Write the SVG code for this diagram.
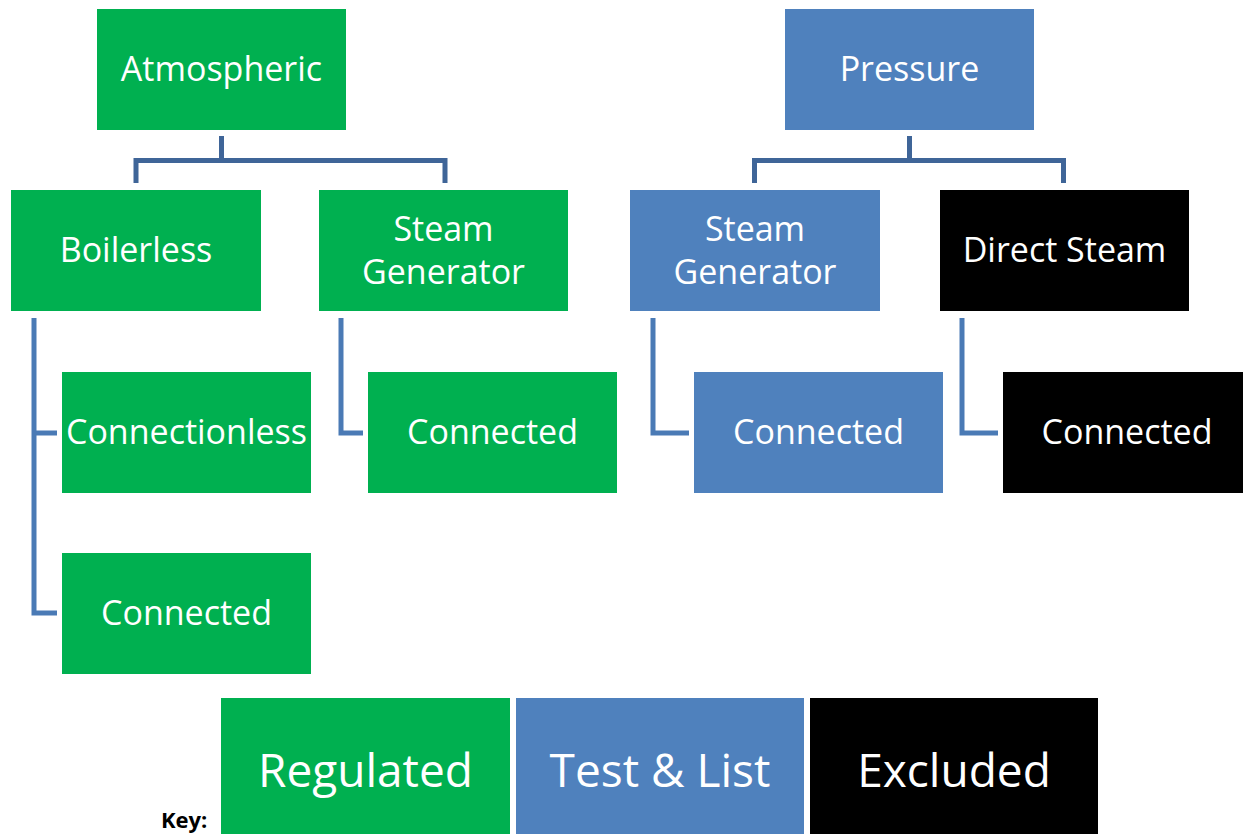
<svg xmlns="http://www.w3.org/2000/svg" width="1243" height="834" viewBox="0 0 1243 834">
<style>
.g{fill:#00B050}.b{fill:#4F81BD}.k{fill:#000}
text{font-family:"Open Sans","Liberation Sans",sans-serif;fill:#fff;text-anchor:middle;font-size:34px}
.key{font-size:46px}
.lbl{fill:#000;font-weight:bold;font-size:22px;text-anchor:start}
.c1{fill:none;stroke:#3F6598;stroke-width:5}
.c2{fill:none;stroke:#4A7AB5;stroke-width:5}
</style>
<rect width="1243" height="834" fill="#fff"/>
<g id="connectors">
<path class="c1" d="M221.5 136V160.5M136 183V160.5H445V183"/>
<path class="c1" d="M909.5 136V160.5M754.5 183V160.5H1063.5V183"/>
<path class="c2" d="M34 318V613H57M34 433H57"/>
<path class="c2" d="M341 318V433H363"/>
<path class="c2" d="M653 318V433H689"/>
<path class="c2" d="M962 318V433H998"/>
</g>
<g id="atmospheric"><rect class="g" x="97" y="9" width="249" height="121"/><text x="221.5" y="81">Atmospheric</text></g>
<g id="pressure"><rect class="b" x="785" y="9" width="249" height="121"/><text x="909.5" y="81">Pressure</text></g>
<g id="boilerless"><rect class="g" x="11" y="190" width="250" height="121"/><text x="136" y="262">Boilerless</text></g>
<g id="steam-gen-atm"><rect class="g" x="319" y="190" width="249" height="121"/><text x="443.5" y="241">Steam</text><text x="443.5" y="284">Generator</text></g>
<g id="steam-gen-pres"><rect class="b" x="630" y="190" width="250" height="121"/><text x="755" y="241">Steam</text><text x="755" y="284">Generator</text></g>
<g id="direct-steam"><rect class="k" x="940" y="190" width="249" height="121"/><text x="1064.5" y="262">Direct Steam</text></g>
<g id="connectionless"><rect class="g" x="62" y="372" width="249" height="121"/><text x="186.5" y="444">Connectionless</text></g>
<g id="connected-boilerless"><rect class="g" x="62" y="553" width="249" height="121"/><text x="186.5" y="625">Connected</text></g>
<g id="connected-sg-atm"><rect class="g" x="368" y="372" width="249" height="121"/><text x="492.5" y="444">Connected</text></g>
<g id="connected-sg-pres"><rect class="b" x="694" y="372" width="249" height="121"/><text x="818.5" y="444">Connected</text></g>
<g id="connected-direct"><rect class="k" x="1003" y="372" width="240" height="121"/><text x="1127" y="444">Connected</text></g>
<g id="key">
<text class="lbl" x="161" y="828">Key:</text>
<rect class="g" x="221" y="698" width="289" height="136"/><text class="key" x="365.5" y="787">Regulated</text>
<rect class="b" x="516" y="698" width="288" height="136"/><text class="key" x="660" y="787">Test &amp; List</text>
<rect class="k" x="810" y="698" width="288" height="136"/><text class="key" x="954" y="787">Excluded</text>
</g>
</svg>
